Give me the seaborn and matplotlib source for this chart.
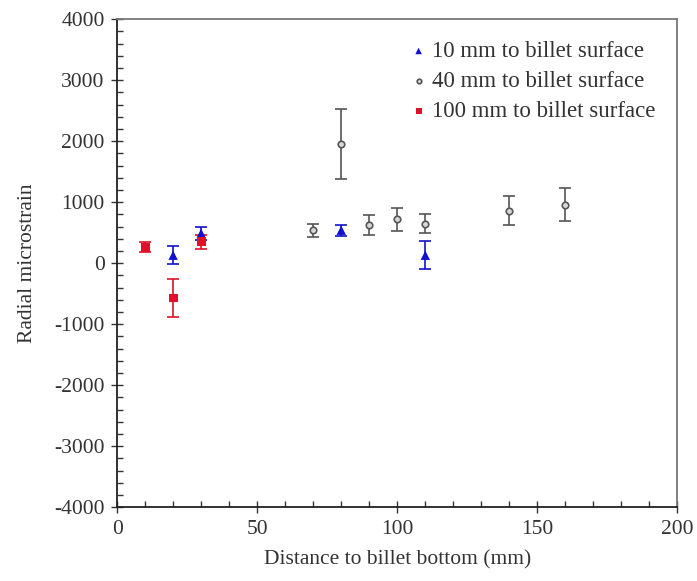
import matplotlib.pyplot as plt
import seaborn as sns
import pandas as pd
from matplotlib.ticker import MultipleLocator

# Data (distance mm, radial microstrain, error)
x_10 = [20, 30, 80, 110]
y_10 = [130, 490, 540, 130]
e_10 = [150, 110, 90, 230]

x_40 = [70, 80, 90, 100, 110, 140, 160]
y_40 = [540, 1950, 630, 720, 650, 860, 960]
e_40 = [110, 570, 160, 190, 160, 240, 270]

x_100 = [10, 20, 30]
y_100 = [260, -570, 350]
e_100 = [80, 310, 110]

labels = ["10 mm to billet surface", "40 mm to billet surface", "100 mm to billet surface"]

sns.set_theme(style="white")
plt.rcParams['font.family'] = ['Liberation Serif', 'DejaVu Serif']
plt.rcParams['axes.unicode_minus'] = False

series = [(x_10, y_10, e_10), (x_40, y_40, e_40), (x_100, y_100, e_100)]
colors = ['#1010d0', '#555555', '#e0102a']
markers = ['^', 'o', 's']
sizes = [45, 22, 40]

fig, ax = plt.subplots(figsize=(6.97, 5.81), dpi=100)
fig.subplots_adjust(left=0.168, right=0.972, top=0.967, bottom=0.127)

for (xs, ys, es), lab, c, m, sz in zip(series, labels, colors, markers, sizes):
    d = pd.DataFrame({'x': xs, 'y': ys, 'e': es})
    ax.errorbar(d['x'], d['y'], yerr=d['e'], fmt='none', ecolor=c,
                elinewidth=1.2, capsize=4, capthick=1.2, zorder=2)
    if m == 'o':
        sns.scatterplot(data=d, x='x', y='y', marker=m, s=sz, facecolor='#d8d8d8',
                        edgecolor=c, linewidth=1.2, ax=ax, zorder=3, label=lab)
    else:
        sns.scatterplot(data=d, x='x', y='y', marker=m, s=sz, color=c,
                        edgecolor='none', ax=ax, zorder=3, label=lab)

ax.set_xlim(0, 200)
ax.set_ylim(-4000, 4000)
ax.xaxis.set_major_locator(MultipleLocator(50))
ax.xaxis.set_minor_locator(MultipleLocator(10))
ax.yaxis.set_major_locator(MultipleLocator(1000))
ax.yaxis.set_minor_locator(MultipleLocator(200))
ax.tick_params(which='major', direction='inout', length=8, width=1, labelsize=15.5,
               colors='#333333', bottom=True, left=True, top=False, right=False, pad=5)
ax.tick_params(which='minor', direction='in', length=4, width=1,
               bottom=True, left=True, top=False, right=False, colors='#333333')
for side in ['left', 'bottom']:
    ax.spines[side].set_color('#222222')
    ax.spines[side].set_linewidth(1.3)
for side in ['top', 'right']:
    ax.spines[side].set_color('#777777')
    ax.spines[side].set_linewidth(1.3)

ax.set_xlabel("Distance to billet bottom (mm)", fontsize=15.5, color='#333333', labelpad=8)
ax.set_ylabel("Radial microstrain", fontsize=15.5, color='#333333', labelpad=12)

leg = ax.legend(loc='upper right', frameon=False, fontsize=16.5, handletextpad=0.0,
                borderaxespad=0.55, labelspacing=0.4, markerscale=0.7,
                handlelength=1.2)
for t in leg.get_texts():
    t.set_color('#333333')

fig.savefig('out.png', dpi=100)
